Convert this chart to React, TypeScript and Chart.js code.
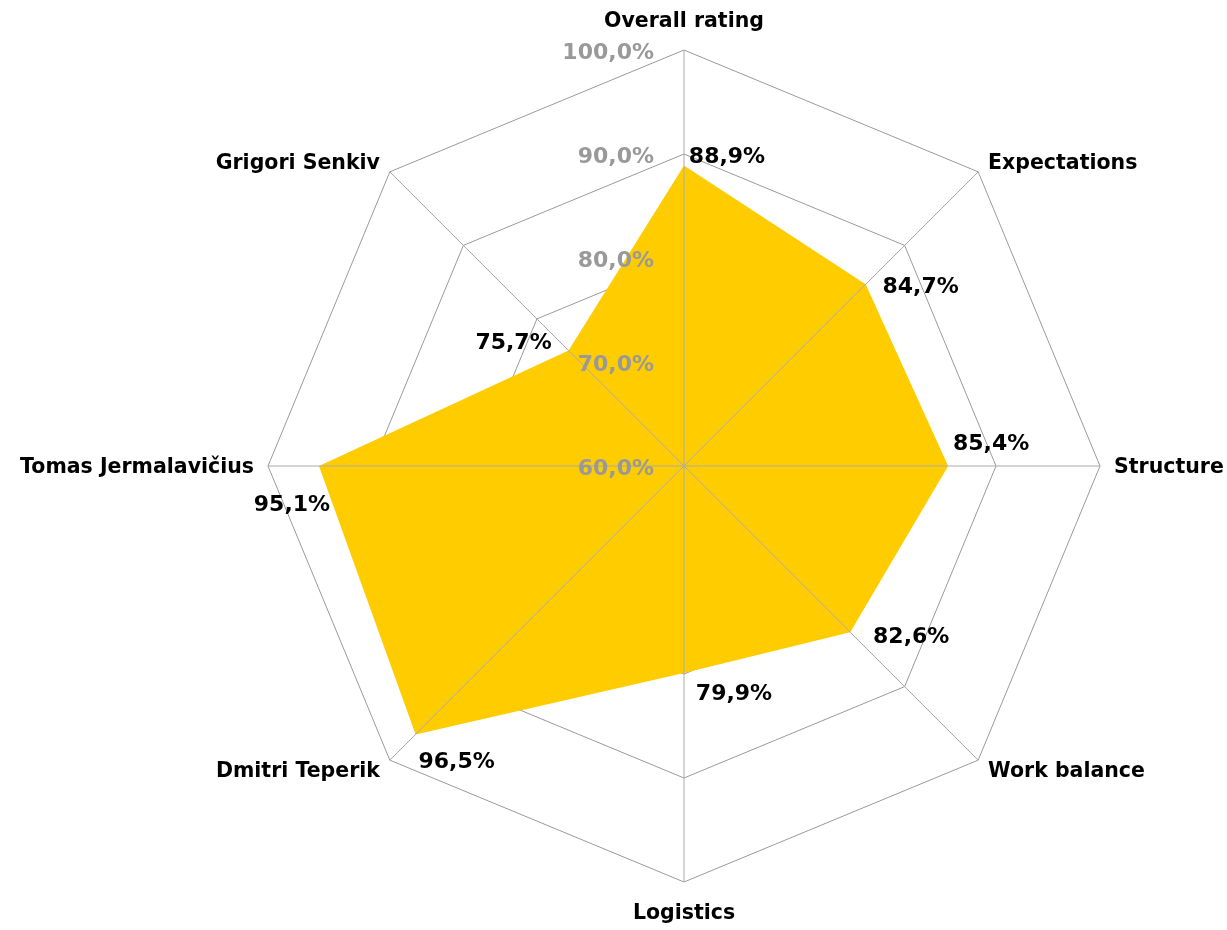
import React, { useEffect, useRef } from 'react';
import { Chart, registerables } from 'chart.js';

Chart.register(...registerables);

const categories = [
  'Overall rating',
  'Expectations',
  'Structure',
  'Work balance',
  'Logistics',
  'Dmitri Teperik',
  'Tomas Jermalavičius',
  'Grigori Senkiv',
];
const scores = [88.9, 84.7, 85.4, 82.6, 79.9, 96.5, 95.1, 75.7];
const tickValues = [60, 70, 80, 90, 100];

const fmt = (v: number) => v.toFixed(1).replace('.', ',') + '%';

const FONT = '"DejaVu Sans", Verdana, sans-serif';
const YB = 2; // visual baseline correction for 'middle'

const overlayPlugin = {
  id: 'overlay',
  afterDatasetsDraw(chart: any, _args: any, opts: any) {
    const s = chart.scales.r;
    const ctx = chart.ctx;
    const r = s.drawingArea;
    const cx = s.xCenter;
    const cy = s.yCenter;
    ctx.save();

    // spokes on top of the fill
    ctx.strokeStyle = '#ababab';
    ctx.lineWidth = 1;
    for (let i = 0; i < categories.length; i++) {
      const p = s.getPointPosition(i, r);
      ctx.beginPath();
      ctx.moveTo(cx, cy);
      ctx.lineTo(p.x, p.y);
      ctx.stroke();
    }

    // tick labels
    ctx.font = `bold 22px ${FONT}`;
    ctx.fillStyle = '#999999';
    ctx.textAlign = 'right';
    ctx.textBaseline = 'middle';
    tickValues.forEach((v) => {
      const d = s.getDistanceFromCenterForValue(v);
      ctx.fillText(fmt(v), cx - 30, cy - d + 1 + YB);
    });

    // category labels
    ctx.font = `bold 20.5px ${FONT}`;
    ctx.fillStyle = '#000000';
    categories.forEach((c, i) => {
      const p0 = s.getPointPosition(i, r);
      const dx = p0.x - cx;
      const vertical = Math.abs(dx) < 1;
      const p = s.getPointPosition(i, r + (vertical ? 30 : 14));
      ctx.textAlign = vertical ? 'center' : dx > 0 ? 'left' : 'right';
      ctx.textBaseline = 'middle';
      ctx.fillText(c, p.x, p.y + YB);
    });

    // value labels
    ctx.font = `bold 22px ${FONT}`;
    ctx.textAlign = 'center';
    ctx.textBaseline = 'middle';
    const meta = chart.getDatasetMeta(0);
    const offsets = opts.offsets || [];
    meta.data.forEach((pt: any, i: number) => {
      const o = offsets[i] || [0, 0];
      ctx.fillText(fmt(scores[i]), pt.x + o[0], pt.y + o[1] + YB);
    });

    ctx.restore();
  },
};

export default function App() {
  const ref = useRef<HTMLCanvasElement | null>(null);

  useEffect(() => {
    if (!ref.current) return;
    const chart = new Chart(ref.current, {
      type: 'radar',
      data: {
        labels: categories,
        datasets: [
          {
            data: scores,
            backgroundColor: '#FFCC00',
            borderWidth: 0,
            pointRadius: 0,
            pointHoverRadius: 0,
            fill: true,
          },
        ],
      },
      options: {
        responsive: false,
        animation: false,
        devicePixelRatio: 1,
        layout: { padding: { left: 268, right: 127, top: 50, bottom: 48 } },
        scales: {
          r: {
            min: 60,
            max: 100,
            ticks: { stepSize: 10, display: false },
            grid: { color: '#9a9a9a', lineWidth: 1 },
            angleLines: { display: false },
            pointLabels: { display: false },
          },
        },
        plugins: {
          legend: { display: false },
          tooltip: { enabled: false },
          overlay: {
            offsets: [
              [43, -10],
              [55, 1],
              [43, -24],
              [61, 3],
              [50, 19],
              [41, 26],
              [-27, 37],
              [-55, -9],
            ],
          },
        } as any,
      },
      plugins: [overlayPlugin],
    });
    return () => chart.destroy();
  }, []);

  return (
    <div style={{ position: 'absolute', left: 0, top: 0, width: 1227, height: 930, background: '#fff' }}>
      <canvas ref={ref} width={1227} height={930} />
    </div>
  );
}
